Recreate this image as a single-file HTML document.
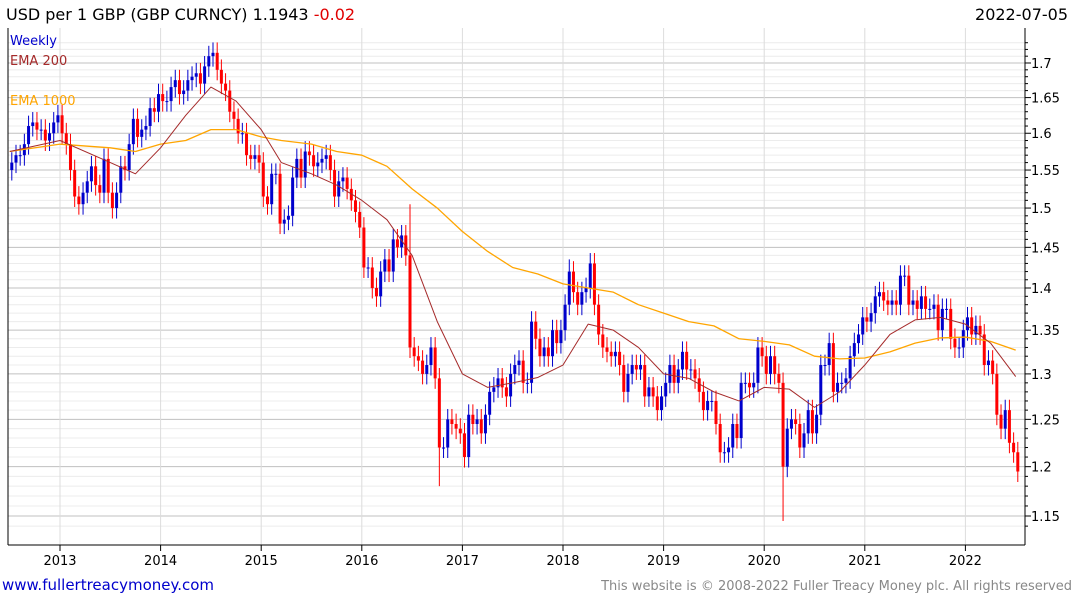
<!DOCTYPE html>
<html><head><meta charset="utf-8"><style>
body{margin:0;background:#fff;font-family:"Liberation Sans",sans-serif;}
#wrap{position:relative;width:1075px;height:600px;overflow:hidden;}
svg text{font-family:"DejaVu Sans","Liberation Sans",sans-serif;}
</style></head><body>
<div id="wrap">
<svg id="chart" width="1075" height="600">
<text x="6" y="20" font-size="16" fill="#000">USD per 1 GBP (GBP CURNCY) 1.1943 <tspan fill="#e00000">-0.02</tspan></text>
<text x="1068" y="20" font-size="16" fill="#000" text-anchor="end">2022-07-05</text>
<g id="grid"></g>
<g id="marks"></g>
<g id="axes"></g>
<text x="10" y="45" font-size="13" fill="#0000cc">Weekly</text>
<text x="10" y="65" font-size="13" fill="#a52a2a">EMA 200</text>
<text x="10" y="105" font-size="13" fill="#ffa500">EMA 1000</text>
<text x="2" y="590" font-size="15" fill="#0000cc">www.fullertreacymoney.com</text>
<text x="1072" y="590" font-size="13" fill="#888" text-anchor="end">This website is © 2008-2022 Fuller Treacy Money plc. All rights reserved</text>
</svg></div>
<script>
const closes=[1.56,1.57,1.57,1.585,1.61,1.615,1.605,1.605,1.59,1.60,1.615,1.625,
1.60,1.585,1.55,1.515,1.505,1.52,1.535,1.555,1.53,1.52,1.565,1.52,1.50,1.52,1.555,1.55,1.585,1.62,1.595,1.605,1.61,1.635,1.63,1.655,
1.645,1.645,1.665,1.675,1.655,1.66,1.675,1.68,1.685,1.67,1.695,1.71,1.715,1.69,1.67,1.66,1.63,1.62,1.60,1.60,1.57,1.565,1.57,1.56,
1.515,1.505,1.545,1.545,1.48,1.485,1.49,1.54,1.565,1.54,1.575,1.57,1.555,1.56,1.565,1.57,1.55,1.515,1.535,1.54,1.525,1.51,1.495,1.475,
1.425,1.425,1.40,1.39,1.42,1.435,1.42,1.46,1.45,1.465,1.44,1.33,1.32,1.315,1.30,1.31,1.33,1.295,1.22,1.22,1.25,1.245,1.24,1.235,
1.21,1.255,1.245,1.25,1.235,1.255,1.28,1.285,1.295,1.285,1.275,1.30,1.31,1.315,1.29,1.29,1.36,1.34,1.32,1.33,1.32,1.35,1.335,1.35,
1.38,1.42,1.395,1.38,1.395,1.40,1.43,1.38,1.345,1.33,1.325,1.32,1.325,1.31,1.28,1.30,1.31,1.305,1.31,1.275,1.285,1.275,1.26,1.275,
1.29,1.31,1.29,1.305,1.325,1.305,1.305,1.295,1.28,1.26,1.27,1.27,1.245,1.215,1.215,1.22,1.245,1.23,1.29,1.29,1.285,1.29,1.33,1.32,
1.30,1.32,1.30,1.29,1.20,1.24,1.25,1.245,1.22,1.235,1.26,1.235,1.255,1.31,1.31,1.335,1.28,1.29,1.29,1.295,1.32,1.335,1.345,1.365,
1.36,1.37,1.39,1.395,1.385,1.38,1.385,1.38,1.415,1.415,1.38,1.385,1.375,1.39,1.375,1.375,1.38,1.35,1.375,1.375,1.34,1.33,1.33,1.35,
1.365,1.345,1.355,1.345,1.31,1.315,1.30,1.255,1.24,1.26,1.225,1.215,1.195];
const spikeIdx=[95,102,184,133,138];
const spikeVal=[1.505,1.18,1.145,1.435,1.435];
const emaT=[2012.5,2013.0,2013.5,2013.75,2014.0,2014.25,2014.5,2014.75,2015.0,2015.2,2015.5,2015.75,2016.0,2016.25,2016.5,2016.75,2017.0,2017.25,2017.5,2017.75,2018.0,2018.25,2018.5,2018.75,2019.0,2019.25,2019.5,2019.75,2020.0,2020.25,2020.5,2020.75,2021.0,2021.25,2021.5,2021.75,2022.0,2022.25,2022.5];
const ema200=[1.575,1.59,1.56,1.545,1.58,1.625,1.665,1.645,1.605,1.56,1.545,1.53,1.51,1.485,1.44,1.36,1.30,1.285,1.29,1.296,1.31,1.357,1.35,1.33,1.30,1.295,1.28,1.27,1.285,1.283,1.263,1.28,1.31,1.345,1.362,1.365,1.357,1.335,1.297];
const ema1000=[1.575,1.585,1.58,1.575,1.585,1.59,1.605,1.605,1.595,1.59,1.585,1.575,1.57,1.555,1.525,1.50,1.47,1.445,1.425,1.417,1.405,1.40,1.395,1.38,1.37,1.36,1.355,1.34,1.337,1.333,1.32,1.317,1.318,1.325,1.335,1.341,1.342,1.337,1.327];
const yTicks=[1.15,1.2,1.25,1.3,1.35,1.4,1.45,1.5,1.55,1.6,1.65,1.7];
const years=[2013,2014,2015,2016,2017,2018,2019,2020,2021,2022];
const NS='http://www.w3.org/2000/svg';
const L=8,R=1025,T=28,B=545;
function yOf(v){return 516-(Math.log(v)-Math.log(1.15))*1159;}
function xOf(t){return 60+(t-2013)*100.6;}
function mk(tag,attrs,parent){const e=document.createElementNS(NS,tag);for(const k in attrs)e.setAttribute(k,attrs[k]);parent.appendChild(e);return e;}
const grid=document.getElementById('grid'),marks=document.getElementById('marks'),axes=document.getElementById('axes');
for(let v=1.14;v<=1.74;v+=0.01){const vv=Math.round(v*100)/100;const y=yOf(vv);if(y<T||y>B)continue;
 const major=Math.round(vv*100)%5===0;
 const l=mk('line',{x1:L,x2:R,y1:y,y2:y,stroke:major?'#c0c0c0':'#ececec','stroke-width':1},grid);
 
 const tk=mk('line',{x1:R,x2:R+(major?6:3),y1:y,y2:y,stroke:'#000'},axes);
 }
for(const yr of years){const x=xOf(yr);
 const l=mk('line',{x1:x,x2:x,y1:T,y2:B,stroke:'#dcdcdc'},grid);
 
 const tk=mk('line',{x1:x,x2:x,y1:B,y2:B+6,stroke:'#000'},axes);
 
 const t=mk('text',{x:x,y:565,'font-size':13,'text-anchor':'middle',fill:'#000'},axes);t.textContent=yr;
 }
for(const v of yTicks){const t=mk('text',{x:R+6,y:yOf(v)+5,'font-size':13,fill:'#000'},axes);t.textContent=v;
 }
let a=mk('line',{x1:R,x2:R,y1:T,y2:B,stroke:'#000'},axes);
a=mk('line',{x1:L,x2:R,y1:B,y2:B,stroke:'#000'},axes);
a=mk('line',{x1:L,x2:L,y1:T,y2:B,stroke:'#000'},axes);
for(let i=0;i<closes.length;i++){const t=2012.5+(i+0.5)/24;const x=xOf(t);
 const o=i>0?closes[i-1]:closes[0]-0.01,c=closes[i];
 let hi=Math.max(o,c)*1.009,lo=Math.min(o,c)*0.991;
 const si=spikeIdx.indexOf(i);if(si>=0){const sv=spikeVal[si];if(sv>hi)hi=sv;if(sv<lo)lo=sv;}
 const col=c>=o?'#0000cc':'#ff0000';
 const w=mk('line',{x1:x,x2:x,y1:yOf(hi),y2:yOf(lo),stroke:col,'stroke-width':1},marks);
 
 const b=mk('rect',{x:x-1.5,y:yOf(Math.max(o,c)),width:3,height:Math.max(1,yOf(Math.min(o,c))-yOf(Math.max(o,c))),fill:col},marks);
 }
function line(vals,col,w,name){const p=mk('polyline',{points:vals.map((v,i)=>xOf(emaT[i])+','+yOf(v)).join(' '),fill:'none',stroke:col,'stroke-width':w,'stroke-linejoin':'round'},marks);
 }
line(ema1000,'#ffa500',1.3,'ema-1000-line');
line(ema200,'#a52a2a',1,'ema-200-line');
</script></body></html>
